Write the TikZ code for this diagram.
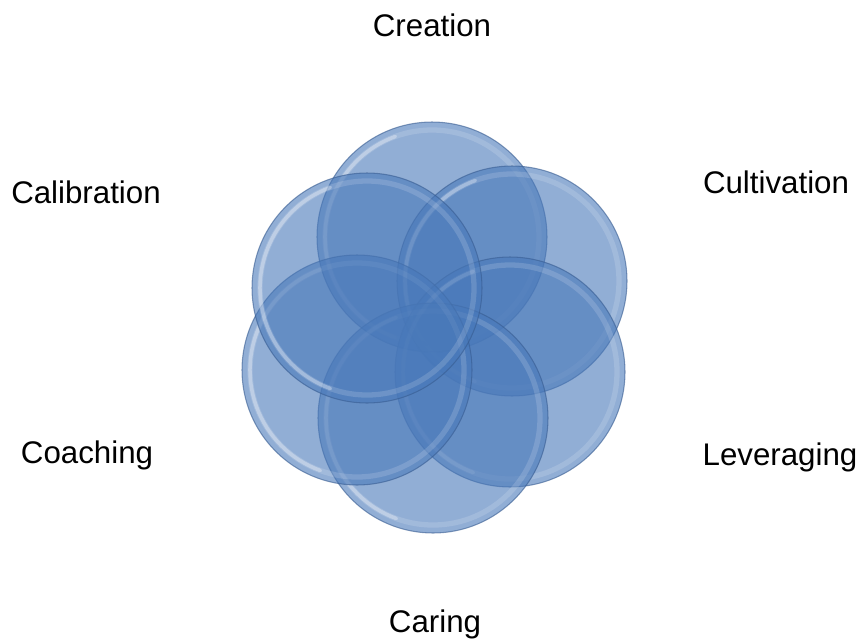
\documentclass[tikz,border=0pt]{standalone}
\usepackage{fontspec}
\setmainfont{Liberation Sans}
\definecolor{petal}{RGB}{72,120,185}
\definecolor{petalrim}{RGB}{55,92,145}
\begin{document}
\begin{tikzpicture}[x=0.02cm, y=0.02cm,
		word/.style={font=\fontsize{17.8}{21}\selectfont, anchor=base, inner sep=0pt}]
		\useasboundingbox (0,0) rectangle (861,-639);

		% the six glassy discs
		\foreach \cx/\cy in {432/237, 512/281, 510/372, 433/418, 357/370, 367/288} {
			\fill[petal, opacity=0.6] (\cx,-\cy) circle (115);
			\draw[white, opacity=0.15, line width=3pt] (\cx,-\cy) circle (107);
			\draw[white, opacity=0.3, line width=2pt, line cap=round]
				(\cx,-\cy) ++(110:107) arc[start angle=110, end angle=250, radius=107];
			\draw[petalrim, opacity=0.6, line width=0.6pt] (\cx,-\cy) circle (115);
		}

		% the words round the flower
		\node[word] (creation) at (432,-36) {Creation};
		\node[word] (cultivation) at (776,-193) {Cultivation};
		\node[word] (leveraging) at (780,-465) {Leveraging};
		\node[word] (caring) at (435,-632) {Caring};
		\node[word] (coaching) at (87,-463) {Coaching};
		\node[word] (calibration) at (86,-203) {Calibration};
	\end{tikzpicture}
\end{document}
